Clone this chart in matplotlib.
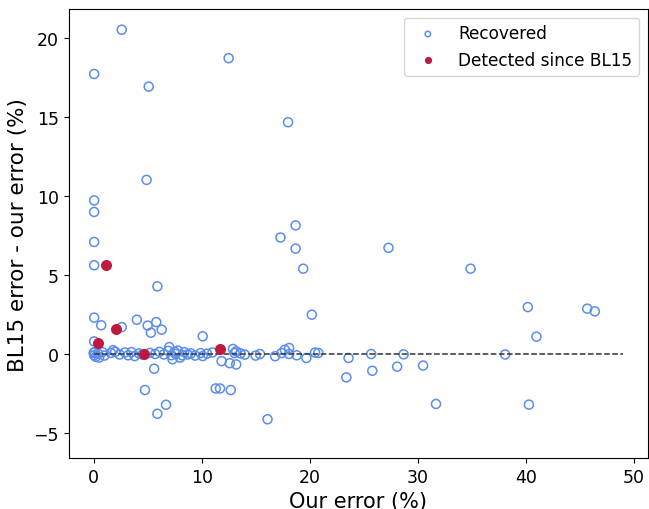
import matplotlib
matplotlib.use("Agg")
import matplotlib.pyplot as plt

# Recovered (open circles)
rec_x = [2.6, 0.05, 12.5, 5.1, 18.0, 4.9, 0.05, 0.05, 0.05, 0.05,
         18.7, 17.3, 18.7, 19.4, 27.3, 34.9, 5.9,
         20.2, 40.2, 45.7, 46.4, 41.0,
         0.05, 0.7, 2.6, 4.0, 5.0, 5.8, 5.3, 6.3, 10.1, 0.05,
         5.6, 4.75, 6.7, 5.9, 11.3, 11.7, 12.7, 16.1,
         12.6, 13.2, 11.85, 10.1,
         12.9, 13.2, 13.05, 14.0, 15.0, 15.4, 16.8, 17.4, 17.7, 18.1, 18.1,
         18.8, 19.7, 20.5, 20.8, 23.6, 23.4, 25.7, 25.8, 28.7, 28.1, 30.5,
         31.7, 38.1, 40.3,
         0.0, 0.05, 0.1, 0.2, 0.4, 0.5, 0.8, 1.0, 1.6, 1.8, 2.0, 2.4, 2.9,
         3.2, 3.5, 3.8, 4.2, 4.5, 5.2, 5.7, 6.1, 6.5, 6.9, 7.0, 7.2, 7.3,
         7.5, 7.6, 7.8, 8.0, 8.2, 8.4, 8.7, 9.0, 9.4, 9.9, 10.5, 11.0, 13.6]
rec_y = [20.5, 17.7, 18.7, 16.9, 14.65, 11.0, 9.7, 8.97, 7.07, 5.6,
         8.12, 7.35, 6.65, 5.38, 6.7, 5.38, 4.26,
         2.47, 2.95, 2.85, 2.68, 1.08,
         2.28, 1.8, 1.68, 2.15, 1.78, 2.0, 1.33, 1.52, 1.1, 0.78,
         -0.95, -2.3, -3.23, -3.8, -2.2, -2.2, -2.3, -4.15,
         -0.6, -0.68, -0.47, -0.15,
         0.3, 0.15, 0.04, -0.06, -0.12, -0.02, -0.16, 0.04, 0.25, 0.36, -0.02,
         -0.1, -0.27, 0.07, 0.05, -0.27, -1.5, -0.02, -1.08, -0.04, -0.82, -0.75,
         -3.18, -0.05, -3.22,
         0.05, -0.1, 0.1, -0.2, 0.0, -0.25, 0.1, -0.12, 0.05, 0.22, 0.12, -0.05, 0.08,
         -0.1, 0.1, -0.15, 0.02, -0.05, 0.05, -0.02, 0.12, -0.05, 0.18, 0.42, -0.1, -0.35,
         0.12, -0.02, 0.2, -0.25, -0.1, 0.1, -0.05, 0.02, -0.12, 0.04, 0.0, 0.08, 0.02]

# Detected since BL15 (filled)
det_x = [1.1, 2.1, 0.37, 4.7, 11.7]
det_y = [5.6, 1.58, 0.7, 0.0, 0.27]

fig = plt.figure(figsize=(6.49, 5.10), dpi=100)
ax = fig.add_axes([0.106, 0.1, 0.892, 0.88])

ax.scatter(rec_x, rec_y, s=42, facecolors='none', edgecolors='#5b8def',
           linewidths=1.1, label='Recovered', zorder=2)
ax.hlines(0, 0, 49, colors='#333333', linestyles='--', linewidth=1.1, zorder=3)
ax.scatter(det_x, det_y, s=48, color='#c0193f', edgecolors='#c0193f',
           label='Detected since BL15', zorder=4)

ax.set_xlim(-2.3, 51.3)
ax.set_ylim(-6.6, 21.8)
ax.set_xticks([0, 10, 20, 30, 40, 50])
ax.set_yticks([-5, 0, 5, 10, 15, 20])
ax.tick_params(labelsize=12.5)
ax.set_xlabel('Our error (%)', fontsize=15)
ax.set_ylabel('BL15 error - our error (%)', fontsize=15.5)

ax.legend(loc='upper right', fontsize=12.2, markerscale=0.6)

fig.savefig('out.png', dpi=100)
